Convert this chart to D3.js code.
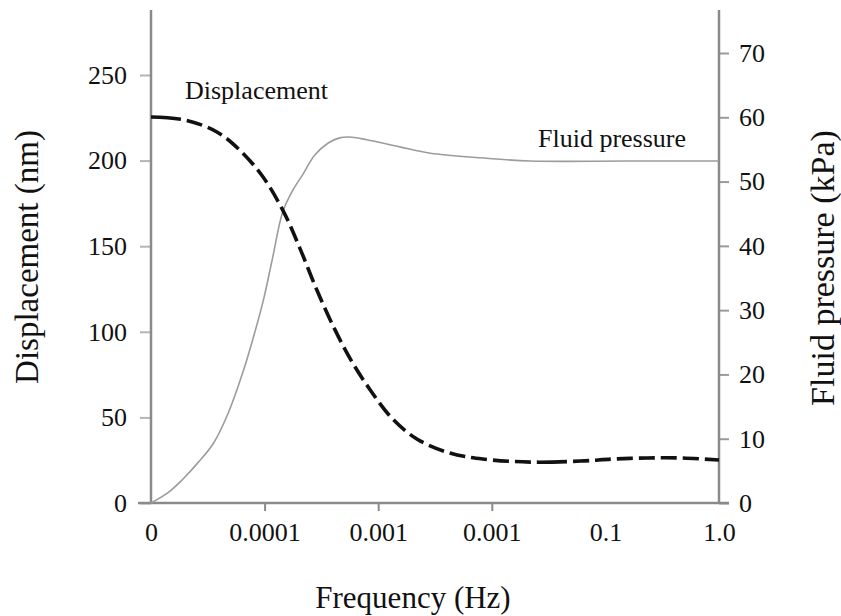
<!DOCTYPE html>
<html><head><meta charset="utf-8">
<script src="https://cdn.jsdelivr.net/npm/d3@7/dist/d3.min.js"></script>
<style>
html,body{margin:0;padding:0;background:#fff;}
text{font-family:"Liberation Serif","Times New Roman",serif;fill:#111;}
</style></head>
<body>
<svg id="chart" width="841" height="616"></svg>
<script>
// Tick labels on the frequency axis (evenly spaced, as printed)
const freqLabels = ["0", "0.0001", "0.001", "0.001", "0.1", "1.0"];
const dispTicks = [0, 50, 100, 150, 200, 250];
const presTicks = [0, 10, 20, 30, 40, 50, 60, 70];

// Displacement (nm) vs frequency position (0..5 = tick index)
const dispX = [0, 0.30, 0.58, 0.78, 0.98, 1.16, 1.31, 1.46, 1.62, 1.77, 1.93, 2.12, 2.34, 2.63, 2.92, 3.34, 3.78, 4.07, 4.37, 4.66, 5];
const dispY = [225.5, 223.7, 216.7, 206.2, 191.0, 171.1, 148.9, 124.4, 101.1, 82.4, 66.0, 49.6, 37.4, 29.2, 25.7, 23.9, 24.5, 25.7, 26.3, 26.3, 25.1];

// Fluid pressure (kPa)
const presX = [0, 0.15, 0.28, 0.41, 0.55, 0.68, 0.81, 0.90, 0.99, 1.07, 1.16, 1.25, 1.34, 1.44, 1.56, 1.66, 1.77, 1.90, 2.19, 2.46, 2.90, 3.34, 4.2, 5];
const presY = [0, 1.6, 3.7, 6.2, 9.3, 14.0, 20.4, 25.7, 31.6, 38.1, 45.3, 48.7, 51.2, 54.1, 56.0, 56.8, 56.9, 56.5, 55.4, 54.4, 53.7, 53.2, 53.2, 53.2];

const svg = d3.select("#chart");
const x = d3.scaleLinear().domain([0, 5]).range([151, 719]);
const yL = d3.scaleLinear().domain([0, 250]).range([503, 75]);
const yR = d3.scaleLinear().domain([0, 70]).range([503, 53]);

const axisColor = "#8a8a8a";

// Left axis
const gL = svg.append("g").attr("transform", "translate(151,0)")
  .call(d3.axisLeft(yL).tickValues(dispTicks).tickSize(11).tickPadding(13).tickFormat(d3.format("d")));
gL.select(".domain").remove();
gL.selectAll(".tick line").attr("stroke", "#b5b5b5").attr("stroke-width", 2);
gL.selectAll(".tick text").style("font-size", "26px").attr("fill", "#111");

// Right axis
const gR = svg.append("g").attr("transform", "translate(719,0)")
  .call(d3.axisRight(yR).tickValues(presTicks).tickSize(10).tickPadding(10).tickFormat(d3.format("d")));
gR.select(".domain").remove();
gR.selectAll(".tick line").attr("stroke", "#9a9a9a").attr("stroke-width", 2);
gR.selectAll(".tick text").style("font-size", "26px").attr("fill", "#111");

// Bottom axis labels
const gB = svg.append("g").attr("transform", "translate(0,503)")
  .call(d3.axisBottom(x).tickValues(d3.range(freqLabels.length)).tickSize(0).tickPadding(20).tickFormat(i => freqLabels[i]));
gB.select(".domain").remove();
gB.selectAll(".tick text").style("font-size", "26px").attr("fill", "#111");
// Bottom small ticks
const gBt = svg.append("g").attr("transform", "translate(0,503)")
  .call(d3.axisBottom(x).tickValues([1, 2, 3]).tickSize(8).tickFormat(""));
gBt.select(".domain").remove();
gBt.selectAll(".tick line").attr("stroke", "#8a8a8a").attr("stroke-width", 2);

// Axis lines
svg.append("line").attr("x1", 151).attr("x2", 151).attr("y1", 10).attr("y2", 504)
  .attr("stroke", axisColor).attr("stroke-width", 2.5);
svg.append("line").attr("x1", 719).attr("x2", 719).attr("y1", 10).attr("y2", 504)
  .attr("stroke", axisColor).attr("stroke-width", 2.5);
svg.append("line").attr("x1", 138).attr("x2", 729).attr("y1", 503).attr("y2", 503)
  .attr("stroke", axisColor).attr("stroke-width", 2.5);

// Pressure line
const presData = presX.map((v, i) => [v, presY[i]]);
svg.append("path").datum(presData)
  .attr("fill", "none").attr("stroke", "#9c9c9c").attr("stroke-width", 1.6)
  .attr("d", d3.line().x(d => x(d[0])).y(d => yR(d[1])).curve(d3.curveCatmullRom.alpha(0.5)));

// Displacement line
const dispData = dispX.map((v, i) => [v, dispY[i]]);
svg.append("path").datum(dispData)
  .attr("fill", "none").attr("stroke", "#111").attr("stroke-width", 3.6)
  .attr("stroke-dasharray", "30,6,16,6,16,6,16,6,16,6,16,6,16,6,16,6,16,6,16,6,16,6,16,6,16,6,16,6,16,6,16,6,16,6,16,6,16,6,16,6,16,6,16,6,16,6,16,6,16,6")
  .attr("d", d3.line().x(d => x(d[0])).y(d => yL(d[1])).curve(d3.curveCatmullRom.alpha(0.5)));

// Series labels
svg.append("text").attr("x", 185).attr("y", 99).style("font-size", "26px").text("Displacement");
svg.append("text").attr("x", 538).attr("y", 147).style("font-size", "26px").text("Fluid pressure");

// Axis titles
svg.append("text").attr("transform", "translate(38,257) rotate(-90)")
  .attr("text-anchor", "middle").style("font-size", "33px").text("Displacement (nm)");
svg.append("text").attr("transform", "translate(834,268) rotate(-90)")
  .attr("text-anchor", "middle").style("font-size", "34px").text("Fluid pressure (kPa)");
svg.append("text").attr("x", 413).attr("y", 608)
  .attr("text-anchor", "middle").style("font-size", "31px").text("Frequency (Hz)");
</script>
</body></html>
